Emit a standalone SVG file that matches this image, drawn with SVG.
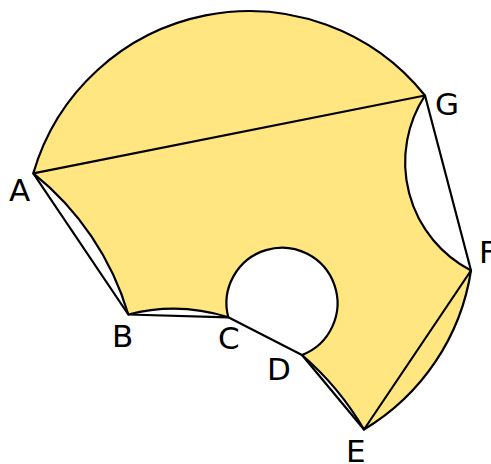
<svg xmlns="http://www.w3.org/2000/svg" width="491" height="464" viewBox="0 0 491 464">
<style>
.region{fill:#ffe680;stroke:#000;stroke-width:2.2;stroke-linejoin:round}
.seg{fill:none;stroke:#000;stroke-width:2.2;stroke-linejoin:round}
.lbl{font-family:"DejaVu Sans",sans-serif;font-size:31px;fill:#000}
</style>
<rect width="491" height="464" fill="#fff"/>
<g id="region">
<path class="region" d="M33.3,173.3 A225,225 0 0 1 425,95.5 A122,122 0 0 0 471,270.5 A225,225 0 0 1 364,429.5 A296,296 0 0 0 302,355 A55.5,55.5 0 1 0 228.3,317.3 A182,182 0 0 0 128.3,314.5 A284,284 0 0 0 33.3,173.3 Z"/>
</g>
<g id="connectors">
<polygon class="seg" points="33.3,173.3 128.3,314.5 228.3,317.3 302,355 364,429.5 471,270.5 425,95.5"/>
</g>
<g id="A"><text class="lbl" x="9" y="200.5">A</text></g>
<g id="B"><text class="lbl" x="112" y="346.5">B</text></g>
<g id="C"><text class="lbl" x="218" y="348.5">C</text></g>
<g id="D"><text class="lbl" x="267" y="380">D</text></g>
<g id="E"><text class="lbl" x="346" y="462">E</text></g>
<g id="F"><text class="lbl" x="479" y="262.5">F</text></g>
<g id="G"><text class="lbl" x="435" y="114.5">G</text></g>
</svg>
